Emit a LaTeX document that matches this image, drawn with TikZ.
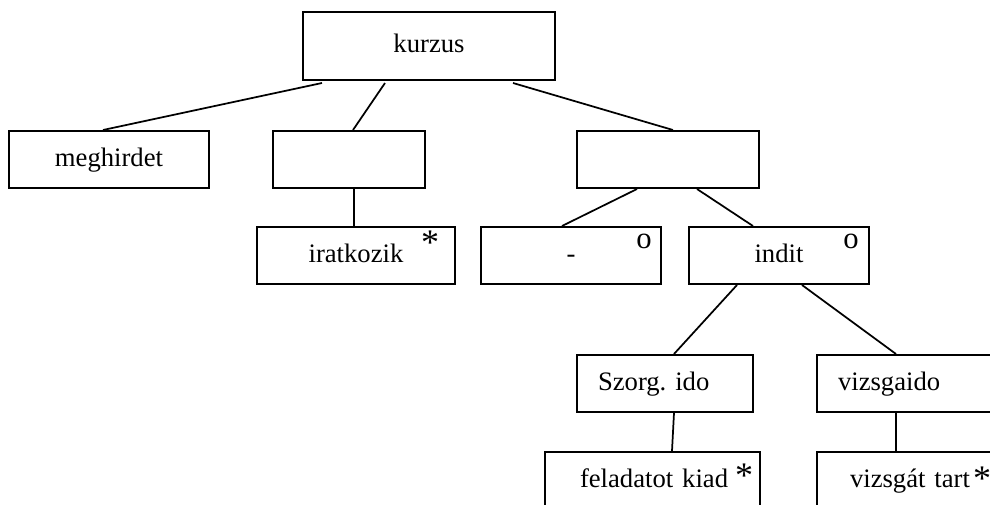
\documentclass[tikz,border=0pt]{standalone}
\usepackage{fontspec}
\setmainfont{Liberation Serif}
\usetikzlibrary{calc}
\tikzset{
  box/.style={draw=black,fill=white,line width=1.5pt,minimum height=42.75pt,inner sep=0pt,text height=14pt,text depth=4pt,font=\fontsize{20}{24}\selectfont},
  leftbox/.style={box,align=left},
  star/.style={inner sep=0pt,anchor=north,font=\fontsize{27}{27}\selectfont},
  opt/.style={inner sep=0pt,anchor=north,font=\fontsize{23}{23}\selectfont},
  branch/.style={draw=black,line width=1.3pt}
}
\begin{document}
\begin{tikzpicture}[x=0.75pt,y=-0.75pt]
      \useasboundingbox (0,0) rectangle (990,504);
      \node[box,minimum width=189pt,minimum height=51pt] (kurzus) at (429,46) {kurzus};
      \node[box,minimum width=150pt] (meghirdet) at (109,159.5) {meghirdet};
      \node[box,minimum width=114pt] (iratgrp) at (349,159.5) {};
      \node[box,minimum width=136.5pt] (inditgrp) at (668,159.5) {};
      \node[box,minimum width=148.5pt] (iratkozik) at (356,255.5) {iratkozik};
      \node[box,minimum width=135pt] (semmi) at (571,255.5) {-};
      \node[box,minimum width=135pt] (indit) at (779,255.5) {indit};
      \node[leftbox,text width=100.5pt,inner xsep=15.75pt] (szorg) at (665,383.5) {Szorg.~ido};
      \node[leftbox,text width=105.75pt,inner xsep=15.75pt] (vizsgaido) at (908.5,383.5) {vizsgaido};
      \node[leftbox,text width=108.75pt,inner xsep=26.25pt] (feladat) at (652.5,480.5) {feladatot~kiad};
      \node[leftbox,text width=87.75pt,inner xsep=24.75pt] (vizsgat) at (908.5,480.5) {vizsgát~tart};
      \node[star] (iratstar) at ($(iratkozik.north east)+(-26,5)$) {*};
      \node[star] (feladstar) at ($(feladat.north east)+(-17,13)$) {*};
      \node[star] (vizsgstar) at ($(vizsgat.north west)+(166,16)$) {*};
      \node[opt] (semmiopt) at ($(semmi.north east)+(-18,8)$) {o};
      \node[opt] (inditopt) at ($(indit.north east)+(-19,8)$) {o};
      \draw[branch] ($(kurzus.south)+(-107,2)$) -- ($(meghirdet.north)+(-6,0)$);
      \draw[branch] ($(kurzus.south)+(-44,2)$) -- ($(iratgrp.north)+(4,0)$);
      \draw[branch] ($(kurzus.south)+(84,2)$) -- ($(inditgrp.north)+(5,0)$);
      \draw[branch] ($(iratgrp.south)+(5,0)$) -- ($(iratkozik.north)+(-2,0)$);
      \draw[branch] ($(inditgrp.south)+(-31,0)$) -- ($(semmi.north)+(-9,0)$);
      \draw[branch] ($(inditgrp.south)+(29,0)$) -- ($(indit.north)+(-26,0)$);
      \draw[branch] ($(indit.south)+(-42,0)$) -- ($(szorg.north)+(9,0)$);
      \draw[branch] ($(indit.south)+(23,0)$) -- ($(vizsgaido.north west)+(80,0)$);
      \draw[branch] ($(szorg.south)+(9,0)$) -- ($(feladat.north west)+(128,0)$);
      \draw[branch] ($(vizsgaido.south west)+(80,0)$) -- ($(vizsgat.north west)+(80,0)$);
    \end{tikzpicture}
\end{document}
